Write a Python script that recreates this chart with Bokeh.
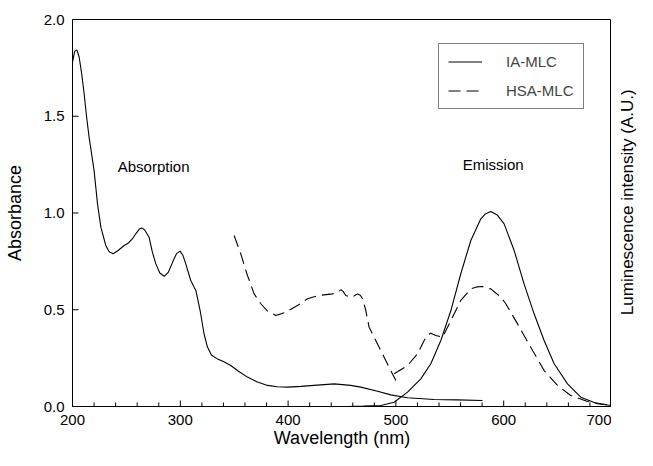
import math
from bokeh.plotting import figure
from bokeh.layouts import row
from bokeh.models import (SingleIntervalTicker, PrintfTickFormatter,
                          Legend, LegendItem, ColumnDataSource)
from bokeh.core.properties import value
from bokeh.embed import file_html
from bokeh.resources import INLINE

FONT = "Liberation Sans"

# IA-MLC absorption (solid)
ia_abs_wl = [200, 202, 204, 206.2, 208.5, 210.8, 213, 215.4, 220, 223.2, 226.3, 230.9, 234, 237.7,
             242, 248, 252, 255.7, 259, 262, 264.3, 267, 271, 274, 277.3, 281, 285, 289, 292.8,
             296.5, 299.8, 302.5, 305.1, 309.7, 312.5, 314.4, 318.4, 322, 325.2, 329, 334.5, 340,
             346.8, 354, 362.3, 371, 380.9, 390, 399.4, 412, 424, 442.7, 458, 467.4, 483, 495.3,
             510.8, 535.5, 557, 580.3]
ia_abs_val = [1.78, 1.835, 1.843, 1.805, 1.72, 1.616, 1.50, 1.392, 1.22, 1.047, 0.927, 0.832, 0.80,
              0.789, 0.805, 0.832, 0.845, 0.867, 0.895, 0.917, 0.923, 0.912, 0.875, 0.80, 0.737,
              0.69, 0.673, 0.695, 0.745, 0.79, 0.803, 0.78, 0.737, 0.651, 0.62, 0.60, 0.496, 0.376,
              0.307, 0.265, 0.246, 0.232, 0.212, 0.182, 0.152, 0.128, 0.109, 0.102, 0.100, 0.104,
              0.109, 0.117, 0.109, 0.100, 0.079, 0.060, 0.045, 0.036, 0.034, 0.031]

# IA-MLC emission (solid)
ia_em_wl = [455, 470, 486, 498.3, 510.8, 523.1, 532.4, 541.7, 551, 560.2, 569.5, 578.8, 583, 588,
            594, 600.4, 609.7, 618.9, 628.2, 637.5, 646.8, 659.2, 671.5, 687, 700]
ia_em_val = [0.0, 0.002, 0.005, 0.022, 0.074, 0.143, 0.221, 0.341, 0.496, 0.686, 0.858, 0.97, 0.995,
             1.008, 0.99, 0.944, 0.806, 0.634, 0.479, 0.341, 0.221, 0.117, 0.048, 0.014, 0.005]

# HSA-MLC absorption (dashed)
hsa_abs_wl = [349.9, 356.1, 362.3, 368.5, 374.7, 380.9, 388.6, 397.9, 408.7, 418, 428.8, 441.2,
              446, 448.9, 451, 453.5, 458.2, 461.5, 464.4, 467, 469, 472.1, 475.1, 476.7, 486, 493, 500]
hsa_abs_val = [0.884, 0.789, 0.677, 0.582, 0.531, 0.493, 0.47, 0.487, 0.522, 0.557, 0.574, 0.582,
               0.59, 0.603, 0.595, 0.574, 0.565, 0.572, 0.582, 0.575, 0.557, 0.496, 0.41, 0.393,
               0.289, 0.21, 0.134]

# HSA-MLC emission (dashed)
hsa_em_wl = [498.4, 510.8, 520, 526.2, 529.5, 532.4, 537, 543.2, 551, 560.2, 569.5, 575, 580.3, 588,
             597.3, 602, 612.8, 625.1, 637.5, 649.9, 662.2, 677.7, 700]
hsa_em_val = [0.169, 0.212, 0.272, 0.341, 0.37, 0.379, 0.367, 0.358, 0.444, 0.548, 0.608, 0.618, 0.62,
              0.608, 0.565, 0.531, 0.427, 0.306, 0.186, 0.109, 0.057, 0.026, 0.005]

note_x = [242, 562]
note_y = [1.24, 1.25]
note_text = ["Absorption", "Emission"]

series_names = ["IA-MLC", "HSA-MLC"]
right_label = "Luminescence intensity (A.U.)"

# tick positions
x_major_ticks = [200, 300, 400, 500, 600, 700]
x_minor_ticks = [w for w in range(220, 700, 20) if w % 100 != 0]
y_major_ticks = [0.0, 0.5, 1.0, 1.5, 2.0]

X0, X1, Y0, Y1 = 200, 700, 0.0, 2.0
W, H = 637, 450
BL, BR, BT, BB = 72, 26, 19, 44
FRAME_W = W - BL - BR
FRAME_H = H - BT - BB
px_x = FRAME_W / (X1 - X0)   # pixels per nm
px_y = FRAME_H / (Y1 - Y0)   # pixels per absorbance unit

p = figure(width=W - BR, height=H, x_range=(X0, X1), y_range=(Y0, Y1),
           output_backend="svg", toolbar_location=None,
           min_border_left=BL, min_border_right=0, min_border_top=BT, min_border_bottom=BB)
p.outline_line_color = "black"
p.outline_line_width = 1
p.xgrid.visible = False
p.ygrid.visible = False

xa = p.xaxis[0]
xa.ticker = SingleIntervalTicker(interval=100, num_minor_ticks=5)
xa.major_tick_in = 6
xa.major_tick_out = 0
xa.minor_tick_in = 0
xa.minor_tick_out = 5
xa.major_tick_line_color = None
xa.minor_tick_line_color = None
xa.major_label_standoff = 3
xa.axis_label = "Wavelength (nm)"
xa.axis_label_standoff = 0

ya = p.yaxis[0]
ya.ticker = SingleIntervalTicker(interval=0.5, num_minor_ticks=5)
ya.formatter = PrintfTickFormatter(format="%.1f")
ya.major_tick_in = 6
ya.major_tick_out = 0
ya.major_tick_line_color = None
ya.minor_tick_line_color = None
ya.major_label_standoff = 4
ya.axis_label = "Absorbance"
ya.axis_label_standoff = 16

for ax in [xa, ya]:
    ax.axis_line_color = "black"
    ax.major_label_text_font = FONT
    ax.major_label_text_font_size = "15px"
    ax.major_label_text_color = "black"
    ax.axis_label_text_font = FONT
    ax.axis_label_text_font_size = "18px"
    ax.axis_label_text_font_style = "normal"
    ax.axis_label_text_color = "black"

# tick marks drawn at the tick values (inside the frame)
p.segment(x0=x_major_ticks, y0=[Y0] * len(x_major_ticks),
          x1=x_major_ticks, y1=[Y0 + 6 / px_y] * len(x_major_ticks),
          line_color="black", line_width=1)
p.segment(x0=x_minor_ticks, y0=[Y0] * len(x_minor_ticks),
          x1=x_minor_ticks, y1=[Y0 + 4 / px_y] * len(x_minor_ticks),
          line_color="black", line_width=1)
p.segment(x0=[X0] * len(y_major_ticks), y0=y_major_ticks,
          x1=[X0 + 6 / px_x] * len(y_major_ticks), y1=y_major_ticks,
          line_color="black", line_width=1)

r1 = p.line(ia_abs_wl, ia_abs_val, line_color="black", line_width=1.1)
p.line(ia_em_wl, ia_em_val, line_color="black", line_width=1.1)
r2 = p.line(hsa_abs_wl, hsa_abs_val, line_color="black", line_width=1.1, line_dash="12 6")
p.line(hsa_em_wl, hsa_em_val, line_color="black", line_width=1.1, line_dash="12 6")

src = ColumnDataSource(dict(x=note_x, y=note_y, t=note_text))
p.text(x="x", y="y", text="t", source=src, text_font=value(FONT), text_font_size="15px",
       text_align="left", text_baseline="middle", text_color="black")

legend = Legend(items=[LegendItem(label=series_names[0], renderers=[r1]),
                       LegendItem(label=series_names[1], renderers=[r2])],
                location=(366, 297), padding=9, margin=0, spacing=12,
                glyph_width=34, glyph_height=17, label_height=17, label_standoff=24,
                label_text_font=FONT, label_text_font_size="15px",
                border_line_color="black", border_line_width=1,
                background_fill_color="white", background_fill_alpha=1)
p.add_layout(legend)

# right-hand strip carrying the luminescence axis title (reads bottom to top)
q = figure(width=BR, height=H, x_range=(0, 1), y_range=(0, 1),
           output_backend="svg", toolbar_location=None,
           x_axis_type=None, y_axis_type=None,
           min_border_left=0, min_border_right=0, min_border_top=0, min_border_bottom=0)
q.outline_line_color = None
q.grid.visible = False
q.text(x=[0.62], y=[1 - (BT + FRAME_H / 2) / H], text=[right_label], angle=math.pi / 2,
       text_font=value(FONT), text_font_size="17px", text_align="center",
       text_baseline="middle", text_color="black")

layout = row(p, q)
open("out.html", "w").write(file_html(layout, INLINE))
